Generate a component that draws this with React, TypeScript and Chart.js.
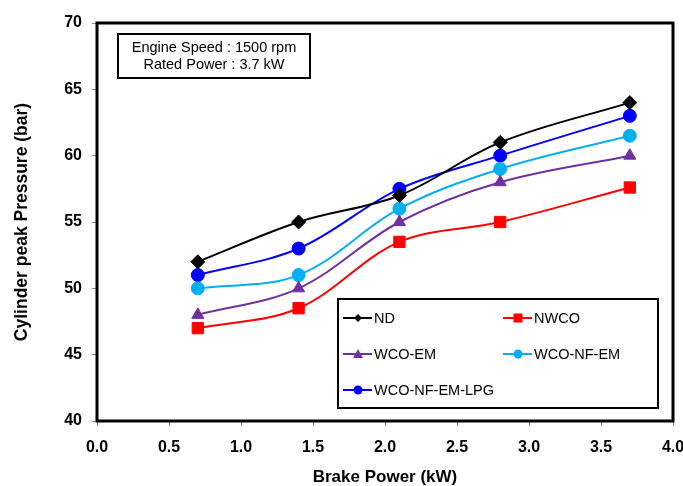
import React, { useEffect, useRef } from "react";
import { Chart, registerables } from "chart.js";

Chart.register(...registerables);

const brakePower = [0.7, 1.4, 2.1, 2.8, 3.7];
const ndValues = [52, 55, 57, 61, 64];
const nwcoValues = [47, 48.5, 53.5, 55, 57.6];
const wcoEmValues = [48, 50, 55, 58, 60];
const wcoNfEmValues = [50, 51, 56, 59, 61.5];
const wcoNfEmLpgValues = [51, 53, 57.5, 60, 63];
const seriesNames = ["ND", "NWCO", "WCO-EM", "WCO-NF-EM", "WCO-NF-EM-LPG"];
const noteLines = ["Engine Speed : 1500 rpm", "Rated Power : 3.7 kW"];

const FONT = "'Liberation Sans', Arial, sans-serif";

const framePlugin = {
  id: "frameAndExtras",
  afterDraw(chart: any) {
    const ctx = chart.ctx;
    const a = chart.chartArea;
    ctx.save();
    // frame
    ctx.strokeStyle = "#000";
    ctx.lineWidth = 3;
    ctx.strokeRect(a.left, a.top, a.right - a.left, a.bottom - a.top);

    // note box
    const nx = a.left + 21, ny = a.top + 11, nw = 192, nh = 44;
    ctx.fillStyle = "#fff";
    ctx.fillRect(nx, ny, nw, nh);
    ctx.lineWidth = 2;
    ctx.strokeRect(nx, ny, nw, nh);
    ctx.fillStyle = "#000";
    ctx.font = `14.5px ${FONT}`;
    ctx.textAlign = "center";
    ctx.textBaseline = "middle";
    ctx.fillText(noteLines[0], nx + nw / 2, ny + 14);
    ctx.fillText(noteLines[1], nx + nw / 2, ny + 31);

    // legend box
    const lx = a.right - 335, ly = a.bottom - 122, lw = 320, lh = 109;
    ctx.fillStyle = "#fff";
    ctx.fillRect(lx, ly, lw, lh);
    ctx.lineWidth = 2;
    ctx.strokeStyle = "#000";
    ctx.strokeRect(lx, ly, lw, lh);
    const ds = chart.data.datasets;
    ds.forEach((d: any, i: number) => {
      const col = i % 2;
      const row = Math.floor(i / 2);
      const x0 = lx + 5 + col * 160;
      const yy = ly + 19 + row * 36;
      ctx.strokeStyle = d.borderColor;
      ctx.lineWidth = 2;
      ctx.beginPath();
      ctx.moveTo(x0, yy);
      ctx.lineTo(x0 + 29, yy);
      ctx.stroke();
      ctx.fillStyle = d.pointBackgroundColor;
      const r = d.legendRadius;
      ctx.beginPath();
      const cx = x0 + 15;
      if (d.pointStyle === "rectRot") {
        ctx.moveTo(cx, yy - r); ctx.lineTo(cx + r, yy); ctx.lineTo(cx, yy + r); ctx.lineTo(cx - r, yy);
        ctx.closePath();
      } else if (d.pointStyle === "rect") {
        ctx.rect(cx - r, yy - r, 2 * r, 2 * r);
      } else if (d.pointStyle === "triangle") {
        ctx.moveTo(cx, yy - r); ctx.lineTo(cx + r, yy + r * 0.8); ctx.lineTo(cx - r, yy + r * 0.8);
        ctx.closePath();
      } else {
        ctx.arc(cx, yy, r, 0, Math.PI * 2);
      }
      ctx.fill();
      ctx.fillStyle = "#000";
      ctx.font = `14.5px ${FONT}`;
      ctx.textAlign = "left";
      ctx.textBaseline = "middle";
      ctx.fillText(d.label, x0 + 31, yy + 1);
    });
    ctx.restore();
  },
};

export default function App() {
  const ref = useRef<HTMLCanvasElement>(null);
  useEffect(() => {
    if (!ref.current) return;
    const mk = (vals: number[]) => brakePower.map((x, i) => ({ x, y: vals[i] }));
    const chart = new Chart(ref.current, {
      type: "line",
      data: {
        datasets: [
          { label: seriesNames[0], data: mk(ndValues), borderColor: "#000000", backgroundColor: "#000000", pointBackgroundColor: "#000000", pointBorderColor: "#000000", pointStyle: "rectRot", pointRadius: 7, legendRadius: 4 } as any,
          { label: seriesNames[1], data: mk(nwcoValues), borderColor: "#FF0000", backgroundColor: "#FF0000", pointBackgroundColor: "#FF0000", pointBorderColor: "#FF0000", pointStyle: "rect", pointRadius: 8, legendRadius: 4.5 } as any,
          { label: seriesNames[2], data: mk(wcoEmValues), borderColor: "#7030A0", backgroundColor: "#7030A0", pointBackgroundColor: "#7030A0", pointBorderColor: "#7030A0", pointStyle: "triangle", pointRadius: 7, legendRadius: 5 } as any,
          { label: seriesNames[3], data: mk(wcoNfEmValues), borderColor: "#00B0F0", backgroundColor: "#00B0F0", pointBackgroundColor: "#00B0F0", pointBorderColor: "#00B0F0", pointStyle: "circle", pointRadius: 6.5, legendRadius: 4.5 } as any,
          { label: seriesNames[4], data: mk(wcoNfEmLpgValues), borderColor: "#0000FF", backgroundColor: "#0000FF", pointBackgroundColor: "#0000FF", pointBorderColor: "#0000FF", pointStyle: "circle", pointRadius: 6.5, legendRadius: 4.5 } as any,
        ],
      },
      options: {
        animation: false,
        responsive: false,
        maintainAspectRatio: false,
        layout: { padding: { top: 23, right: 10, left: 0, bottom: 0 } },
        elements: { line: { tension: 0.35, borderWidth: 2 } },
        plugins: { legend: { display: false }, tooltip: { enabled: false } },
        scales: {
          x: {
            type: "linear",
            min: 0,
            max: 4,
            ticks: {
              stepSize: 0.5,
              color: "#000",
              font: { family: FONT, size: 16, weight: "bold" },
              padding: 12,
              maxRotation: 0,
              callback: (v: any) => Number(v).toFixed(1),
            },
            grid: { drawOnChartArea: false, drawTicks: true, tickLength: 5, color: "#888" },
            border: { display: false },
            title: {
              display: true,
              text: "Brake Power (kW)",
              color: "#000",
              font: { family: FONT, size: 17, weight: "bold" },
              padding: { top: 4, bottom: -2 },
            },
            afterFit: (s: any) => { s.height = 65; s.paddingRight = 0; s.paddingLeft = 0; },
          },
          y: {
            min: 40,
            max: 70,
            ticks: {
              stepSize: 5,
              color: "#000",
              font: { family: FONT, size: 16, weight: "bold" },
              padding: 10,
            },
            grid: { drawOnChartArea: false, drawTicks: true, tickLength: 5, color: "#888" },
            border: { display: false },
            title: {
              display: true,
              text: "Cylinder peak Pressure (bar)",
              color: "#000",
              font: { family: FONT, size: 17.5, weight: "bold" },
              padding: { top: 12, bottom: 4 },
            },
            afterFit: (s: any) => { s.width = 97; s.paddingTop = 0; s.paddingBottom = 0; },
          },
        },
      } as any,
      plugins: [framePlugin],
    });
    return () => chart.destroy();
  }, []);
  return (
    <div style={{ position: "fixed", left: 0, top: 0, width: 683, height: 486, background: "#fff" }}>
      <canvas ref={ref} width={683} height={486} style={{ width: 683, height: 486 }} />
    </div>
  );
}
